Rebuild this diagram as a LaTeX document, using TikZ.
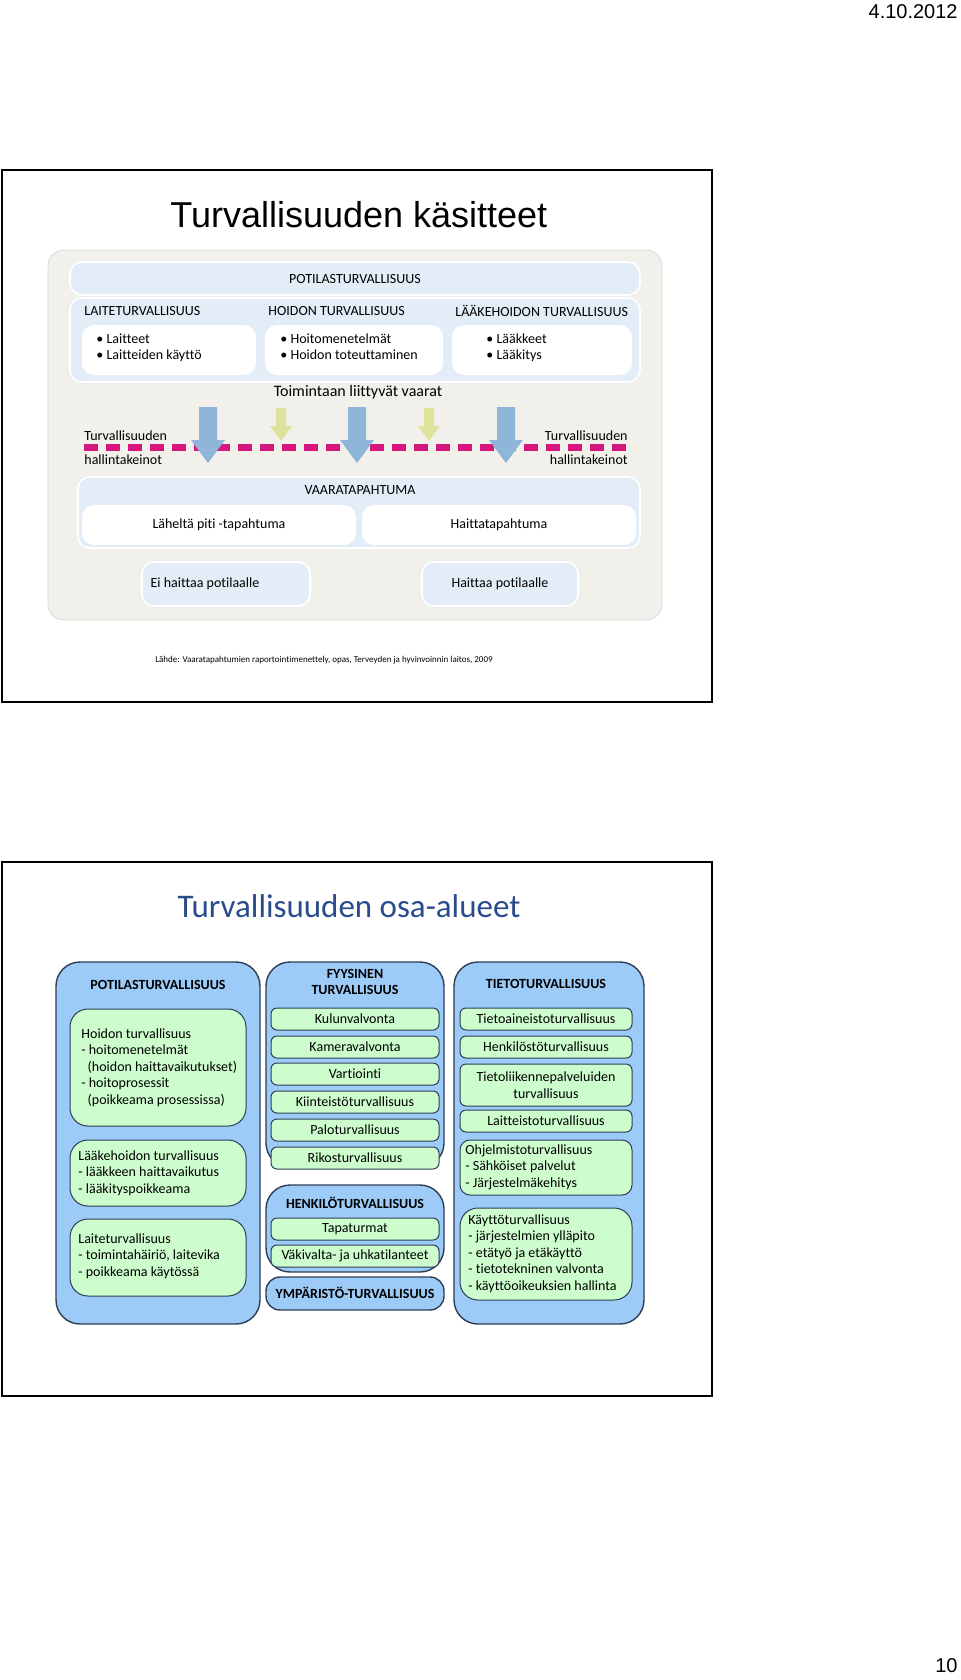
\documentclass[tikz,border=0pt]{standalone}
\usepackage{fontspec}
\setmainfont{Carlito}[Ligatures=NoCommon]
\newfontfamily\arialfont{Liberation Sans}
\usetikzlibrary{positioning}
\definecolor{PanelBlue}{HTML}{E3EDF7}
\definecolor{Beige}{HTML}{F2F0EA}
\definecolor{ArrowBlue}{HTML}{8FB5D8}
\definecolor{ArrowYellow}{HTML}{DDE39A}
\definecolor{DashPink}{HTML}{D6157D}
\definecolor{ColBlue}{HTML}{9DCBF7}
\definecolor{ItemGreen}{HTML}{CDFDCD}
\definecolor{EdgeDark}{HTML}{2E3D55}
\definecolor{TitleBlue}{HTML}{2A4C8C}
\newcommand{\px}[1]{\fontsize{\fpeval{#1/2}}{\fpeval{#1*0.59}}\selectfont}
\newcommand{\bigarrow}[1]{\fill[ArrowBlue] (#1-9,407) -- (#1+9,407) -- (#1+9,440) -- (#1+17,440) -- (#1,463) -- (#1-17,440) -- (#1-9,440) -- cycle;}
\newcommand{\smallarrow}[1]{\fill[ArrowYellow] (#1-5,408) -- (#1+5,408) -- (#1+5,426) -- (#1+11,426) -- (#1,441) -- (#1-11,426) -- (#1-5,426) -- cycle;}

\begin{document}
\begin{tikzpicture}[
      x=0.5pt, y=-0.5pt,
      frame/.style={draw, line width=1pt},
      panel/.style={fill=PanelBlue, draw=white, line width=0.8pt, rounded corners=6pt},
      dlabel/.style={font=\px{14}, inner sep=0pt},
      column/.style={fill=ColBlue, draw=EdgeDark, line width=0.7pt, rounded corners=12pt},
      item/.style={fill=ItemGreen, draw=EdgeDark, line width=0.5pt, rounded corners=3pt, font=\px{14}, align=center, minimum width=84pt, inner sep=1pt},
      listbox/.style={fill=ItemGreen, draw=EdgeDark, line width=0.5pt, rounded corners=9pt},
      listtext/.style={font=\px{14}, anchor=north west, align=left, inner sep=0pt},
      heading/.style={font=\px{14}\bfseries, align=center, inner sep=0pt}
    ]
      \useasboundingbox (0,0) rectangle (960,1680);
      \fill[white] (0,0) rectangle (960,1680);

      \node[font=\arialfont\px{20}, anchor=east, inner sep=0pt] (date) at (958,12) {4.10.2012};
      \node[font=\arialfont\px{20}, anchor=east, inner sep=0pt] (page) at (958,1666) {10};

      % Slide 1
      \draw[frame] (2,170) rectangle (712,702);
      \node[font=\arialfont\px{36}, anchor=west, inner sep=0pt] (title1) at (170,215) {Turvallisuuden käsitteet};
      \draw[fill=Beige, draw=black!15, rounded corners=8pt] (48,250) rectangle (662,620);
      \draw[panel] (70,262) rectangle (640,295);
      \node[dlabel] (potila) at (355,279) {POTILASTURVALLISUUS};
      \draw[panel] (70,298) rectangle (640,382);
      \node[dlabel, anchor=west] (laite) at (84,311) {LAITETURVALLISUUS};
      \node[dlabel, anchor=west] (hoidon) at (268,311) {HOIDON TURVALLISUUS};
      \node[dlabel, anchor=west] (laake) at (455,311) {LÄÄKEHOIDON TURVALLISUUS};
      \fill[white, rounded corners=6pt] (82,325) rectangle (256,375);
      \fill[white, rounded corners=6pt] (265,325) rectangle (443,375);
      \fill[white, rounded corners=6pt] (452,325) rectangle (632,375);
      \node[dlabel, anchor=north west, align=left] (laitelist) at (96,333) {• Laitteet\\• Laitteiden käyttö};
      \node[dlabel, anchor=north west, align=left] (hoidonlist) at (280,333) {• Hoitomenetelmät\\• Hoidon toteuttaminen};
      \node[dlabel, anchor=north west, align=left] (laakelist) at (486,333) {• Lääkkeet\\• Lääkitys};
      \node[dlabel, font=\px{16}] (vaarat) at (358,392) {Toimintaan liittyvät vaarat};
      \draw[DashPink, line width=3.5pt, dash pattern=on 7pt off 4pt] (84,447) -- (632,447);
      \bigarrow{208}
      \bigarrow{357}
      \bigarrow{506}
      \smallarrow{281}
      \smallarrow{429}
      \node[dlabel, anchor=west] (keinotl1) at (84,436) {Turvallisuuden};
      \node[dlabel, anchor=west] (keinotl2) at (84,460) {hallintakeinot};
      \node[dlabel, anchor=east] (keinotr1) at (628,436) {Turvallisuuden};
      \node[dlabel, anchor=east] (keinotr2) at (628,460) {hallintakeinot};
      \draw[panel] (78,477) rectangle (640,548);
      \node[dlabel] (vaaratap) at (360,490) {VAARATAPAHTUMA};
      \fill[white, rounded corners=6pt] (82,505) rectangle (356,545);
      \fill[white, rounded corners=6pt] (362,505) rectangle (636,545);
      \node[dlabel] (lahelta) at (219,525) {Läheltä piti -tapahtuma};
      \node[dlabel] (haittatap) at (499,525) {Haittatapahtuma};
      \draw[panel] (142,562) rectangle (310,606);
      \draw[panel] (422,562) rectangle (578,606);
      \node[dlabel] (eihaitta) at (205,584) {Ei haittaa potilaalle};
      \node[dlabel] (haitta) at (500,584) {Haittaa potilaalle};
      \node[font=\px{9}, anchor=west, inner sep=0pt] (lahde) at (155,660) {Lähde: Vaaratapahtumien raportointimenettely, opas, Terveyden ja hyvinvoinnin laitos, 2009};

      % Slide 2
      \draw[frame] (2,862) rectangle (712,1396);
      \node[font=\px{33}, text=TitleBlue, inner sep=0pt] (title2) at (349,906) {Turvallisuuden osa-alueet};

      % column 1
      \draw[column] (56,962) rectangle (260,1324);
      \node[heading] (potilas2) at (158,985) {POTILASTURVALLISUUS};
      \draw[listbox] (70,1009) rectangle (246,1126);
      \draw[listbox] (70,1140) rectangle (246,1206);
      \draw[listbox] (70,1219) rectangle (246,1296);
      \node[listtext] (hoidon2) at (81,1028) {Hoidon turvallisuus\\- hoitomenetelmät\\\ \ (hoidon haittavaikutukset)\\- hoitoprosessit\\\ \ (poikkeama prosessissa)};
      \node[listtext] (laake2) at (78,1150) {Lääkehoidon turvallisuus\\- lääkkeen haittavaikutus\\- lääkityspoikkeama};
      \node[listtext] (laite2) at (78,1233) {Laiteturvallisuus\\- toimintahäiriö, laitevika\\- poikkeama käytössä};

      % column 2
      \draw[column] (266,962) rectangle (444,1167);
      \node[heading] (fyysinen) at (355,982) {FYYSINEN\\TURVALLISUUS};
      \foreach \y/\t [count=\i] in {1019/Kulunvalvonta, 1047/Kameravalvonta, 1074/Vartiointi, 1102/Kiinteistöturvallisuus, 1130/Paloturvallisuus, 1158/Rikosturvallisuus}
        \node[item, minimum height=11pt] (fyys\i) at (355,\y) {\t};
      \draw[column] (266,1185) rectangle (444,1272);
      \node[heading] (henkilo) at (355,1203) {HENKILÖTURVALLISUUS};
      \node[item, minimum height=11pt] (tapaturmat) at (355,1229) {Tapaturmat};
      \node[item, minimum height=11pt] (vakivalta) at (355,1256) {Väkivalta- ja uhkatilanteet};
      \draw[column, rounded corners=7pt] (266,1277) rectangle (444,1310);
      \node[heading] (ymparisto) at (355,1293) {YMPÄRISTÖ-TURVALLISUUS};

      % column 3
      \draw[column] (454,962) rectangle (644,1324);
      \node[heading] (tieto) at (546,984) {TIETOTURVALLISUUS};
      \node[item, minimum width=86pt, minimum height=11pt] (tieto1) at (546,1019) {Tietoaineistoturvallisuus};
      \node[item, minimum width=86pt, minimum height=11pt] (tieto2) at (546,1047) {Henkilöstöturvallisuus};
      \node[item, minimum width=86pt, minimum height=21pt] (tieto3) at (546,1085) {Tietoliikennepalveluiden\\turvallisuus};
      \node[item, minimum width=86pt, minimum height=11pt] (tieto4) at (546,1121) {Laitteistoturvallisuus};
      \draw[listbox, rounded corners=5pt] (460,1140) rectangle (632,1195);
      \node[listtext] (ohjelmisto) at (465,1144) {Ohjelmistoturvallisuus\\- Sähköiset palvelut\\- Järjestelmäkehitys};
      \draw[listbox] (460,1208) rectangle (632,1300);
      \node[listtext] (kaytto) at (468,1214) {Käyttöturvallisuus\\- järjestelmien ylläpito\\- etätyö ja etäkäyttö\\- tietotekninen valvonta\\- käyttöoikeuksien hallinta};
    \end{tikzpicture}
\end{document}
